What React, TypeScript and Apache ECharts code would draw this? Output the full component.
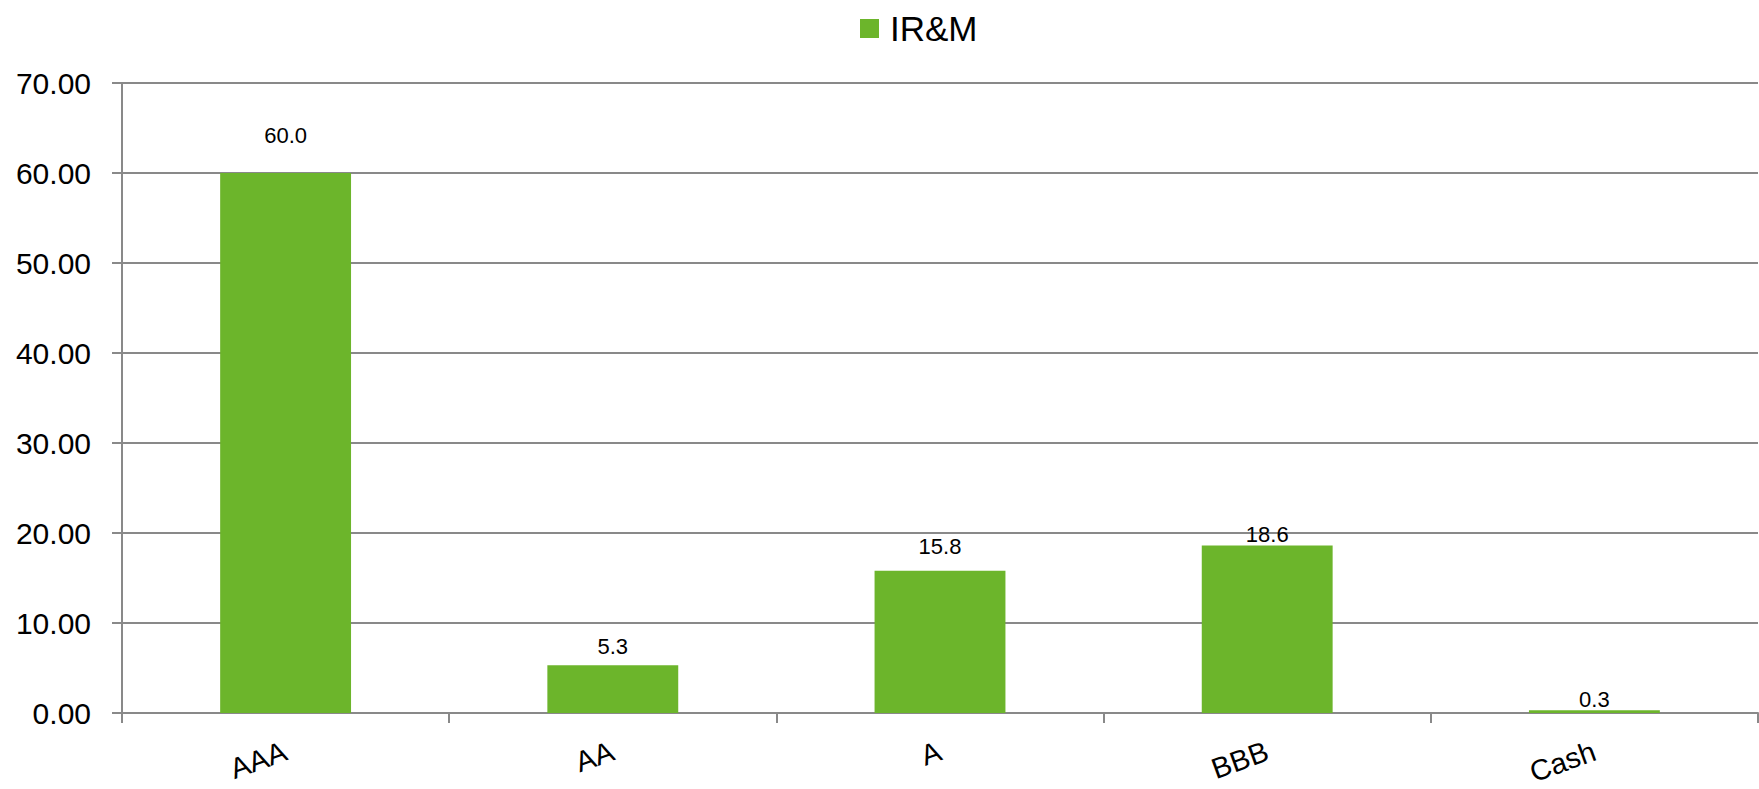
import React, { useEffect, useRef } from "react";
import * as echarts from "echarts";

// Credit-quality allocation, percent of portfolio
const categories = ["AAA", "AA", "A", "BBB", "Cash"];
const seriesName = "IR&M";
const values = [60.0, 5.3, 15.8, 18.6, 0.3];
const yTicks = { min: 0, max: 70, interval: 10 };

// Space between each bar top and its value label (px)
const labelGaps = [27, 8, 13, 0, 0];

const FONT = "'Liberation Sans', Arial, Helvetica, sans-serif";
const GREEN = "#6cb52b";
const GRAY = "#898989";

export default function App() {
  const ref = useRef<HTMLDivElement>(null);

  useEffect(() => {
    if (!ref.current) return;
    const chart = echarts.init(ref.current, null, { renderer: "svg" });
    chart.setOption({
      animation: false,
      textStyle: { fontFamily: FONT },
      legend: {
        data: [seriesName],
        left: 855,
        top: 6,
        icon: "rect",
        itemWidth: 19,
        itemHeight: 19,
        textStyle: {
          fontFamily: FONT,
          fontSize: 35,
          color: "#000",
          padding: [0, 0, 0, 6],
        },
      },
      grid: {
        left: 122,
        right: 1,
        top: 83,
        bottom: 76,
        containLabel: false,
        outerBoundsMode: "none",
      },
      xAxis: {
        type: "category",
        data: categories,
        axisLine: { show: true, lineStyle: { color: GRAY, width: 2 } },
        axisTick: { show: true, length: 10, interval: 0, lineStyle: { color: GRAY, width: 2 } },
        axisLabel: {
          rotate: 20,
          margin: 37,
          interval: 0,
          fontFamily: FONT,
          fontSize: 29,
          lineHeight: 29,
          color: "#000",
        },
      },
      yAxis: {
        type: "value",
        min: yTicks.min,
        max: yTicks.max,
        interval: yTicks.interval,
        axisLine: { show: true, lineStyle: { color: GRAY, width: 2 } },
        axisTick: { show: true, length: 10, lineStyle: { color: GRAY, width: 2 } },
        splitLine: { show: true, lineStyle: { color: GRAY, width: 2 } },
        axisLabel: {
          margin: 31,
          fontFamily: FONT,
          fontSize: 30,
          color: "#000",
          formatter: (v: number) => v.toFixed(2),
        },
      },
      series: [
        {
          name: seriesName,
          type: "bar",
          barWidth: "40%",
          itemStyle: { color: GREEN },
          data: values.map((v, i) => ({
            value: v,
            label: { distance: labelGaps[i] },
          })),
          label: {
            show: true,
            position: "top",
            fontFamily: FONT,
            fontSize: 22,
            color: "#000",
            formatter: (p: any) => Number(p.value).toFixed(1),
          },
        },
      ],
    });
    return () => chart.dispose();
  }, []);

  return (
    <div
      ref={ref}
      style={{ position: "fixed", left: 0, top: 0, width: 1759, height: 789, background: "#fff" }}
    />
  );
}
